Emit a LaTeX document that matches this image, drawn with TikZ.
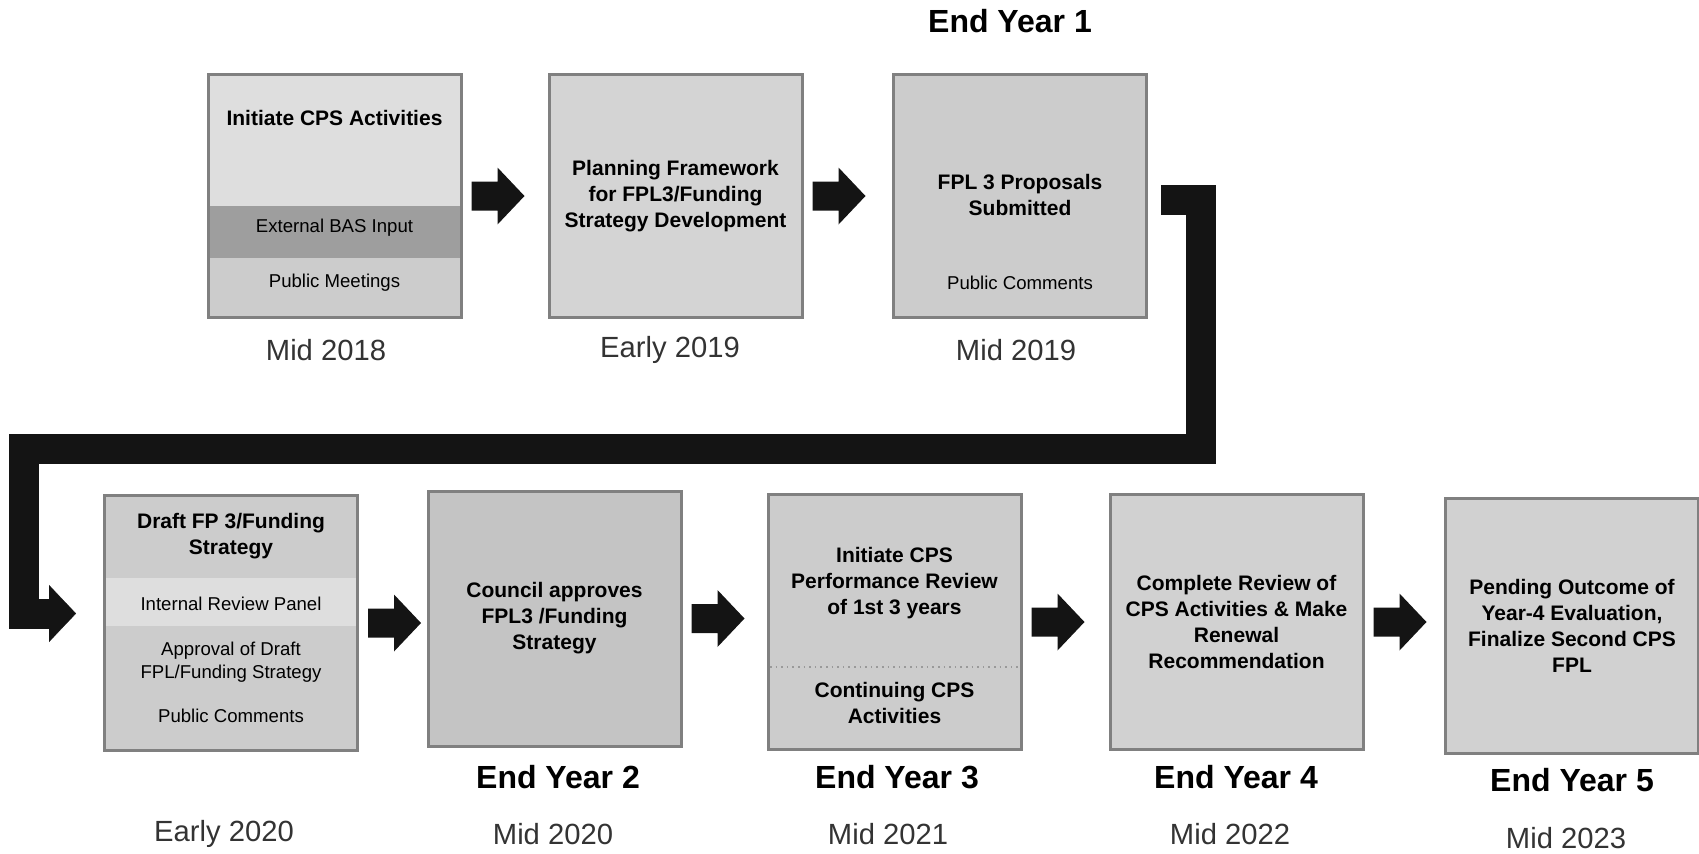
\documentclass[tikz,border=0pt]{standalone}
\usepackage{fontspec}
\setmainfont{Liberation Sans}
\usetikzlibrary{calc,arrows.meta}

\tikzset{
  stagebox/.style={draw=black!50, line width=1.5pt, fill=black!20, inner sep=0pt,
    minimum width=126.5pt, align=center, font=\fontsize{10.5}{13}\selectfont\bfseries},
  toprow/.style={stagebox, minimum height=121.5pt},
  lowrow/.style={stagebox, minimum height=127.5pt},
  boxtitle/.style={font=\fontsize{10.5}{13}\selectfont\bfseries, align=center, inner sep=0pt},
  boxnote/.style={font=\fontsize{9.3}{11.5}\selectfont, align=center, inner sep=0pt},
  datelabel/.style={font=\fontsize{14.6}{17}\selectfont, text=black!80, inner sep=0pt},
  yearlabel/.style={font=\fontsize{16}{19}\selectfont\bfseries, inner sep=0pt},
  lightband/.style={fill=black!13},
  darkband/.style={fill=black!38},
  blockfill/.style={fill=black!92},
}

\begin{document}
\begin{tikzpicture}[x=0.5pt,y=-0.5pt]
  \useasboundingbox (0,0) rectangle (1699,853);
  % top row
  \node [toprow] (b1) at (334.5,196) {};
  \node [toprow, fill=black!17] (b2) at (675.5,196) {Planning Framework\\for FPL3/Funding\\Strategy Development};
  \node [toprow] (b3) at (1020,196) {};
  \fill [lightband] (209.5,76) rectangle (459.5,206);
  \fill [darkband] (209.5,206) rectangle (459.5,258);
  \node [boxtitle] (t1) at (334.5,118) {Initiate CPS Activities};
  \node [boxnote] (n1a) at (334.5,228) {External BAS Input};
  \node [boxnote] (n1b) at (334.5,283) {Public Meetings};
  \node [boxtitle] (t3) at (1020,195) {FPL 3 Proposals\\Submitted};
  \node [boxnote] (n3) at (1020,283) {Public Comments};
  \node [yearlabel] (y1) at (1010,21) {End Year 1};
  \node [datelabel] (d1) at (326,350) {Mid 2018};
  \node [datelabel] (d2) at (670,350) {Early 2019};
  \node [datelabel] (d3) at (1016,350) {Mid 2019};
  % bottom row
  \node [lowrow] (b4) at (231,623) {};
  \node [lowrow, fill=black!23] (b5) at (554.5,618.5) {Council approves\\FPL3 /Funding\\Strategy};
  \node [lowrow] (b6) at (894.5,622) {};
  \node [lowrow, fill=black!18] (b7) at (1236.5,622) {Complete Review of\\CPS Activities \& Make\\Renewal\\Recommendation};
  \node [lowrow, fill=black!18] (b8) at (1572,625.5) {Pending Outcome of\\Year-4 Evaluation,\\Finalize Second CPS\\FPL};
  \fill [lightband] (106,578) rectangle (356,626);
  \node [boxtitle] (t4) at (231,536) {Draft FP 3/Funding\\Strategy};
  \node [boxnote] (n4a) at (231,604) {Internal Review Panel};
  \node [boxnote] (n4b) at (231,662.5) {Approval of Draft\\FPL/Funding Strategy};
  \node [boxnote] (n4c) at (231,716) {Public Comments};
  \draw [black!40, dotted, line width=0.8pt] (770,667) -- (1019,667);
  \node [boxtitle] (t6a) at (894.5,583) {Initiate CPS\\Performance Review\\of 1st 3 years};
  \node [boxtitle] (t6b) at (894.5,703) {Continuing CPS\\Activities};
  \node [yearlabel] (y2) at (558,777) {End Year 2};
  \node [yearlabel] (y3) at (897,777) {End Year 3};
  \node [yearlabel] (y4) at (1236,777) {End Year 4};
  \node [yearlabel] (y5) at (1572,780) {End Year 5};
  \node [datelabel] (d4) at (224,834) {Early 2020};
  \node [datelabel] (d5) at (553,834) {Mid 2020};
  \node [datelabel] (d6) at (888,834) {Mid 2021};
  \node [datelabel] (d7) at (1230,834) {Mid 2022};
  \node [datelabel] (d8) at (1566,838) {Mid 2023};
  % block arrows between stages
  \foreach \from in {b1,b2,b4,b5,b6,b7}
    \fill [blockfill] ($(\from.east)+(9,-14.5)$) -- ++(26,0) -- ++(0,-14) -- ++(27,28.5)
      -- ++(-27,28.5) -- ++(0,-14) -- ++(-26,0) -- cycle;
  % return arrow from the top row to the bottom row
  \coordinate (loopstart) at ($(b3.east)+(13,4)$);
  \coordinate (loopend) at ($(b4.west)+(-27,-9.5)$);
  \draw [black!92, line width=15pt, line join=miter,
    -{Triangle[length=13.5pt,width=28.5pt,line width=0.1pt]}]
    (loopstart) -| (1200.5,448.5) -| (24,613.5) -- (loopend);
\end{tikzpicture}
\end{document}
